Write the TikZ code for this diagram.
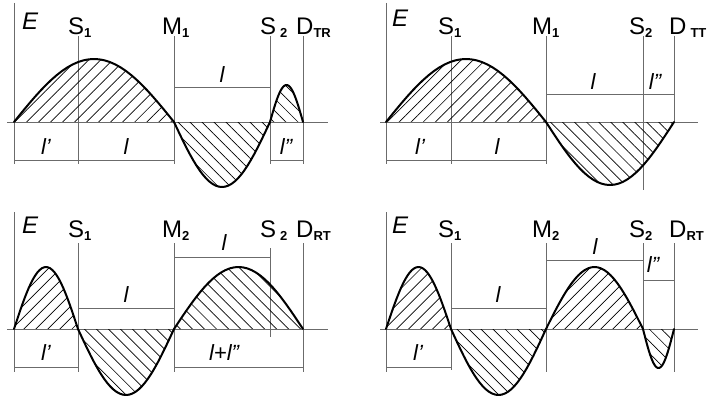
\documentclass[tikz,border=0pt]{standalone}
\usepackage{fontspec}
\setmainfont{Liberation Sans}
\usetikzlibrary{patterns.meta}

% subscript of the point names
\newcommand{\lowidx}[1]{\raisebox{-3pt}{\fontsize{13}{13}\selectfont\bfseries #1}}
% half wave: hatch style, x start, x end, axis y, amplitude (up = positive)
\newcommand{\halfwave}[5]{%
  \path[#1] (#2,#4) -- plot[domain=0:1, samples=31] ({#2+(#3-#2)*\x}, {#4-(#5)*sin(180*\x)}) -- cycle;
  \draw[wave] plot[domain=0:1, samples=31] ({#2+(#3-#2)*\x}, {#4-(#5)*sin(180*\x)});}

\tikzset{
  guide/.style={black!58, line width=0.9pt},
  wave/.style={black, line width=2pt, line join=round, line cap=round},
  hatchup/.style={pattern={Lines[angle=45, distance=8.5pt, line width=0.7pt]}},
  hatchdown/.style={pattern={Lines[angle=-45, distance=8.5pt, line width=0.7pt]}},
  tag/.style={anchor=base west, inner sep=0pt, font=\fontsize{24}{28}\selectfont},
  dim/.style={inner sep=0pt, font=\fontsize{22}{26}\selectfont\itshape},
}

\begin{document}
\begin{tikzpicture}[x=1pt, y=-1pt]
  \useasboundingbox (0,0) rectangle (709,401);

  % --- top left: D_TR
  \draw[guide] (7,122) -- (328,122);
  \draw[guide] (14,3) -- (14,164);
  \draw[guide] (78,36) -- (78,164);
  \draw[guide] (174,36) -- (174,164);
  \draw[guide] (270,36) -- (270,164);
  \draw[guide] (303,36) -- (303,164);
  \draw[guide] (174,87) -- (270,87);
  \draw[guide] (14,160) -- (174,160);
  \draw[guide] (270,160) -- (303,160);
  \halfwave{hatchup}{14}{174}{122}{63}
  \halfwave{hatchdown}{174}{270}{122}{-65}
  \halfwave{hatchdown}{270}{303}{122}{37}
  \node[tag, font=\fontsize{24}{28}\selectfont\itshape] (e1) at (22,30) {E};
  \node[tag] (s11) at (68,35) {S\lowidx{1}};
  \node[tag] (m1a) at (162,35) {M\lowidx{1}};
  \node[tag] (s21) at (260,35) {S\,\lowidx{2}};
  \node[tag] (dtr) at (296,35) {D\lowidx{TR}};
  \node[dim] (la1) at (222,75) {l};
  \node[dim] (lp1) at (46,147) {l’};
  \node[dim] (lb1) at (126,147) {l};
  \node[dim] (lq1) at (286,147) {l”};

  % --- top right: D_TT
  \draw[guide] (380,122) -- (698,122);
  \draw[guide] (386,3) -- (386,164);
  \draw[guide] (451,36) -- (451,164);
  \draw[guide] (546,36) -- (546,164);
  \draw[guide] (643,36) -- (643,190);
  \draw[guide] (674,36) -- (674,122);
  \draw[guide] (546,94) -- (674,94);
  \draw[guide] (386,160) -- (546,160);
  \halfwave{hatchup}{386}{546}{122}{63}
  \halfwave{hatchdown}{546}{674}{122}{-63}
  \node[tag, font=\fontsize{24}{28}\selectfont\itshape] (e2) at (392,27) {E};
  \node[tag] (s12) at (438,35) {S\lowidx{1}};
  \node[tag] (m1b) at (532,35) {M\lowidx{1}};
  \node[tag] (s22) at (629,35) {S\lowidx{2}};
  \node[tag] (dtt) at (669,35) {D\,\lowidx{TT}};
  \node[dim] (la2) at (593,82) {l};
  \node[dim] (lq2) at (655,82) {l”};
  \node[dim] (lp2) at (420,147) {l’};
  \node[dim] (lb2) at (497,147) {l};

  % --- bottom left: D_RT
  \draw[guide] (7,329) -- (328,329);
  \draw[guide] (14,212) -- (14,372);
  \draw[guide] (78,243) -- (78,372);
  \draw[guide] (174,243) -- (174,372);
  \draw[guide] (270,248) -- (270,337);
  \draw[guide] (303,243) -- (303,372);
  \draw[guide] (174,257) -- (270,257);
  \draw[guide] (78,308) -- (174,308);
  \draw[guide] (14,367) -- (78,367);
  \draw[guide] (174,367) -- (303,367);
  \halfwave{hatchup}{14}{78}{329}{62}
  \halfwave{hatchdown}{78}{174}{329}{-66}
  \halfwave{hatchdown}{174}{303}{329}{62}
  \node[tag, font=\fontsize{24}{28}\selectfont\itshape] (e3) at (22,233) {E};
  \node[tag] (s13) at (68,237) {S\lowidx{1}};
  \node[tag] (m2a) at (162,237) {M\lowidx{2}};
  \node[tag] (s23) at (260,237) {S\,\lowidx{2}};
  \node[tag] (drt1) at (296,237) {D\lowidx{RT}};
  \node[dim] (la3) at (224,243) {l};
  \node[dim] (lb3) at (126,295) {l};
  \node[dim] (lp3) at (46,353) {l’};
  \node[dim] (ls3) at (224,353) {l+l”};

  % --- bottom right: D_RT
  \draw[guide] (380,329) -- (698,329);
  \draw[guide] (386,212) -- (386,372);
  \draw[guide] (451,243) -- (451,370);
  \draw[guide] (546,243) -- (546,372);
  \draw[guide] (643,243) -- (643,329);
  \draw[guide] (674,243) -- (674,372);
  \draw[guide] (546,260) -- (643,260);
  \draw[guide] (643,280) -- (674,280);
  \draw[guide] (451,308) -- (546,308);
  \draw[guide] (386,367) -- (451,367);
  \halfwave{hatchup}{386}{451}{329}{62}
  \halfwave{hatchdown}{451}{546}{329}{-66}
  \halfwave{hatchup}{546}{643}{329}{62}
  \halfwave{hatchdown}{643}{674}{329}{-39}
  \node[tag, font=\fontsize{24}{28}\selectfont\itshape] (e4) at (392,233) {E};
  \node[tag] (s14) at (438,237) {S\lowidx{1}};
  \node[tag] (m2b) at (532,237) {M\lowidx{2}};
  \node[tag] (s24) at (629,237) {S\lowidx{2}};
  \node[tag] (drt2) at (669,237) {D\lowidx{RT}};
  \node[dim] (la4) at (595,247) {l};
  \node[dim] (lq4) at (653,265) {l”};
  \node[dim] (lb4) at (498,295) {l};
  \node[dim] (lp4) at (418,353) {l’};
\end{tikzpicture}
\end{document}
